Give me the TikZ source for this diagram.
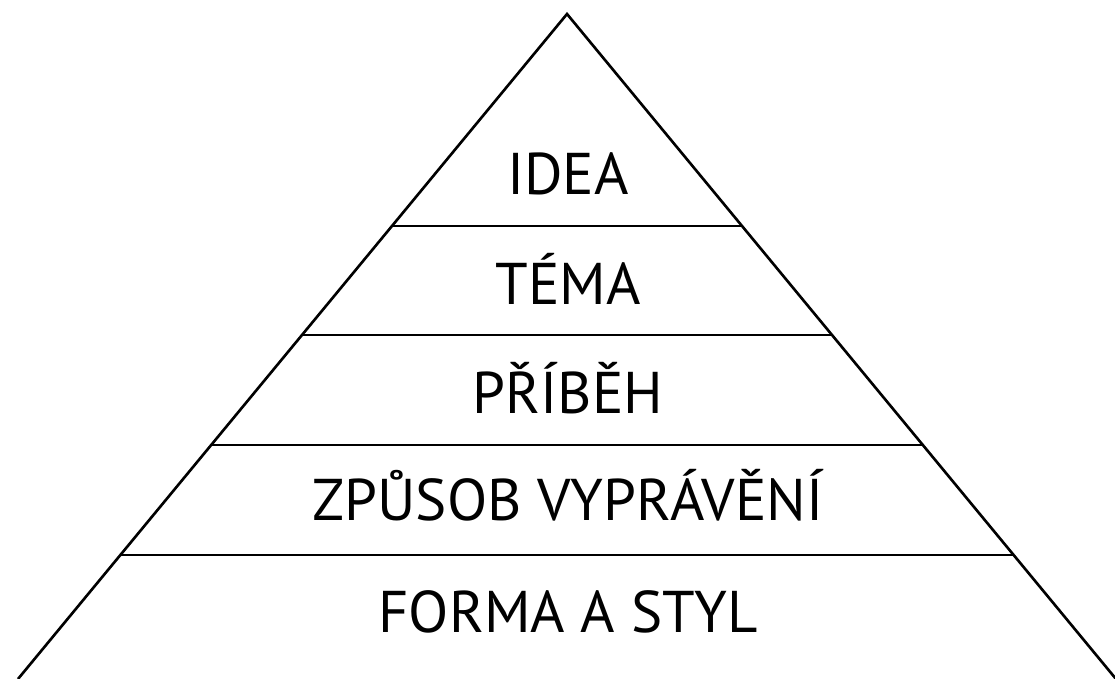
\documentclass[tikz,border=0pt]{standalone}
\usepackage{fontspec}
\setmainfont{PT Sans}
\newfontfamily\layerfont{PT Sans}
\usetikzlibrary{calc}

\begin{document}
\begin{tikzpicture}[x=0.02cm, y=-0.02cm, line width=1.5pt,
    layer/.style={font=\layerfont\fontsize{33.5}{38}\selectfont,
                  inner sep=0pt, anchor=base}]
  \useasboundingbox (0,0) rectangle (1115,679);
  \coordinate (top) at (567,14);
  \coordinate (bl) at (18,679);
  \coordinate (br) at (1116,679);
  \draw (bl) -- (top) -- (br);
  % dividing lines between the layers
  \foreach \k/\y in {1/226, 2/335, 3/445, 4/555}{
    \pgfmathsetmacro{\t}{(\y-14)/665}
    \coordinate (l\k) at ($(top)!\t!(bl)$);
    \coordinate (r\k) at ($(top)!\t!(br)$);
    \draw (l\k) -- (r\k);
  }
  \foreach \k/\y/\txt in {1/194/IDEA, 2/304/TÉMA, 3/413/PŘÍBĚH,
                          4/520/ZPŮSOB VYPRÁVĚNÍ, 5/632/FORMA A STYL}{
    \node[layer] (t\k) at (568,\y) {\txt};
  }
\end{tikzpicture}
\end{document}
